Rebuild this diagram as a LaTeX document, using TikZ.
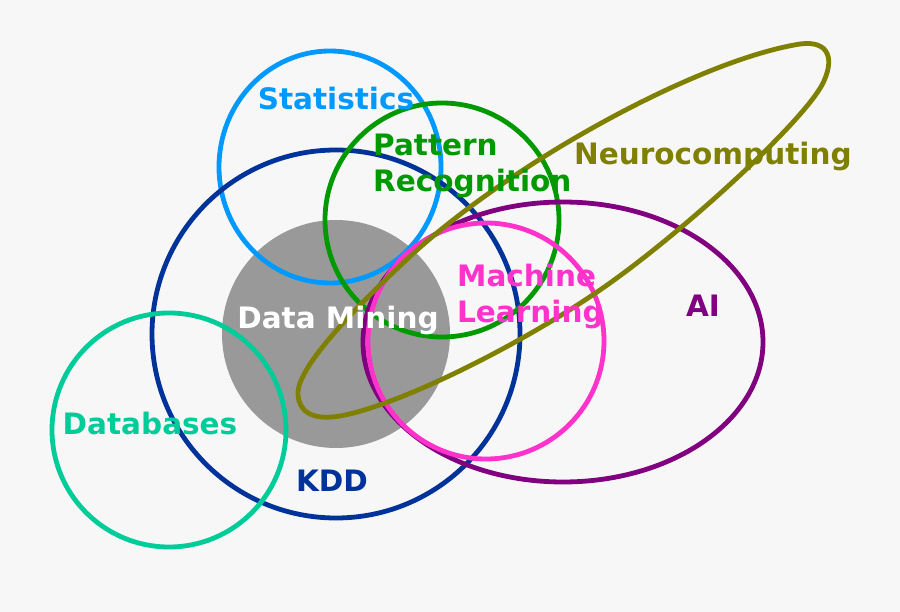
\documentclass[tikz,border=0pt]{standalone}
\usepackage{fontspec}
\setmainfont{DejaVu Sans}
\definecolor{bgc}{HTML}{F7F7F7}
\definecolor{statc}{HTML}{0099FF}
\definecolor{patc}{HTML}{009900}
\definecolor{kddc}{HTML}{003399}
\definecolor{dbc}{HTML}{00CC99}
\definecolor{aic}{HTML}{800080}
\definecolor{mlc}{HTML}{FF33CC}
\definecolor{nc}{HTML}{808000}
\definecolor{dmc}{HTML}{999999}
\tikzset{
  ring/.style={line width=4.8pt},
  lbl/.style={inner sep=0pt, anchor=base, font=\bfseries\fontsize{29.5}{36}\selectfont},
  lblw/.style={lbl, anchor=base west}
}
\begin{document}
\begin{tikzpicture}[x=1pt,y=-1pt]
\fill[bgc] (0,0) rectangle (900,612);
\useasboundingbox (0,0) rectangle (900,612);
% Data Mining disc
\fill[dmc] (336,334) circle (114);
% circles
\draw[ring, statc] (330,167) ellipse (111 and 116);
\draw[ring, kddc] (336,334) circle (184);
\draw[ring, patc] (442,220) circle (117);
\draw[ring, dbc] (169,430) circle (117);
\draw[ring, aic] (563,342) ellipse (200 and 140);
\draw[ring, mlc] (486,341) circle (118);
% Neurocomputing
\draw[ring, nc] (298,395) .. controls (296,375) and (330,330) .. (417,250)
  .. controls (520,158) and (700,60) .. (800,44)
  .. controls (830,40) and (835,60) .. (822,85)
  .. controls (800,125) and (680,235) .. (600,290)
  .. controls (520,345) and (400,405) .. (340,416)
  .. controls (310,421) and (299,410) .. (298,395) -- cycle;
% labels
\node[lbl, statc] (stat) at (336,110) {Statistics};
\node[lblw, patc] (pat1) at (373,156) {Pattern};
\node[lblw, patc] (pat2) at (373,192) {Recognition};
\node[lblw, nc] (neuro) at (574,165) {Neurocomputing};
\node[lbl, white] (dm) at (338,329) {Data Mining};
\node[lblw, mlc] (ml1) at (457,287) {Machine};
\node[lblw, mlc] (ml2) at (457,323) {Learning};
\node[lbl, aic] (ai) at (703,317) {AI};
\node[lbl, dbc] (db) at (150,435) {Databases};
\node[lbl, kddc] (kdd) at (332,491) {KDD};
\end{tikzpicture}
\end{document}
